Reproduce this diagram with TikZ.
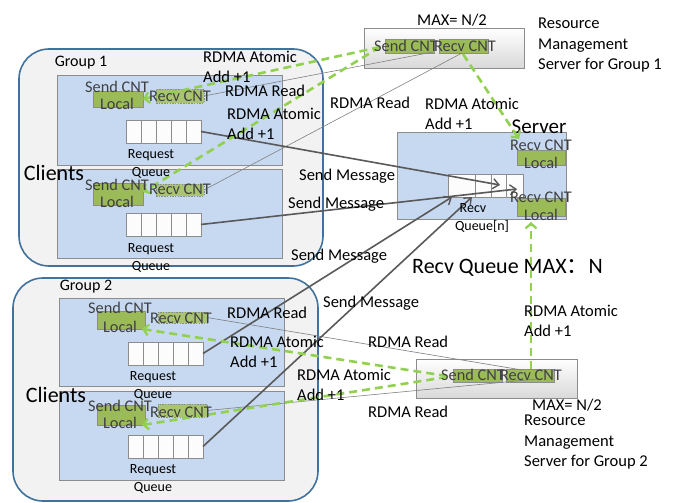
\documentclass[tikz,border=0pt]{standalone}
\usepackage{fontspec}
\setmainfont{Carlito}
\newfontfamily\cjkfont{Noto Sans CJK SC}
\usetikzlibrary{arrows.meta,calc}
\definecolor{grpfill}{HTML}{F2F2F2}
\definecolor{grpline}{HTML}{41719C}
\definecolor{cfill}{HTML}{C6D9F1}
\definecolor{boxline}{HTML}{8C8C8C}
\definecolor{cntgreen}{HTML}{9BBB59}
\definecolor{dashgreen}{HTML}{92D050}
\definecolor{msgline}{HTML}{595959}
\definecolor{cnttext}{HTML}{404040}
\tikzset{
 grp/.style={draw=grpline, fill=grpfill, line width=1.6pt, rounded corners=30pt},
 boxat/.style={anchor=north west, inner sep=0pt, outer sep=0pt},
 clientbox/.style={boxat, draw=boxline, fill=cfill, line width=0.8pt},
 greenbox/.style={boxat, draw=boxline, fill=cntgreen, line width=0.6pt},
 recvbox/.style={boxat, draw=boxline, fill=cntgreen!85, line width=0.6pt, dash pattern=on 1.5pt off 1.2pt},
 queuebox/.style={boxat, draw=boxline, fill=white!98!gray, line width=0.8pt, minimum width=75pt, minimum height=23pt},
 rmsbox/.style={boxat, draw=boxline, top color=white, bottom color=gray!30, line width=0.8pt},
 lbl/.style={inner sep=0pt, anchor=west, align=left, font=\fontsize{16.5}{20.5}\selectfont},
 cnttxt/.style={inner sep=0pt, align=center, text=cnttext, font=\fontsize{16.3}{18}\selectfont},
 smalltxt/.style={inner sep=0pt, font=\fontsize{14}{16}\selectfont},
 greenarrow/.style={draw=dashgreen, line width=2.6pt, dash pattern=on 8pt off 5pt, -{Straight Barb[length=5pt,width=11pt,line width=2.2pt]}},
 msgarrow/.style={draw=msgline, line width=1.6pt, -{Straight Barb[length=6pt,width=10pt,line width=1.4pt]}},
 readline/.style={draw=gray, line width=0.6pt},
}
\newcommand{\qcells}[1]{\foreach \i in {1,...,4}{\draw[boxline, line width=0.8pt] ($(#1.north west)+(15*\i,0)$) -- ($(#1.south west)+(15*\i,0)$);}}
\begin{document}
\begin{tikzpicture}[x=1pt, y=-1pt]
\useasboundingbox (0,0) rectangle (678,503);

% ---------------- Group 1 ----------------
\draw[grp] (19,49) rectangle (323,266);
\node[clientbox, minimum width=225pt, minimum height=90pt] (c1a) at (57,75) {};
\node[clientbox, minimum width=225pt, minimum height=89pt] (c1b) at (57,169) {};
\node[inner sep=0pt, font=\fontsize{16}{18}\selectfont] (g1t) at (81,63) {Group 1};
\node[inner sep=0pt, font=\fontsize{22}{24}\selectfont] (cl1) at (54,173) {Clients};

\node[greenbox, minimum width=50pt, minimum height=16pt] (sc1a) at (93,91) {};
\node[recvbox, minimum width=48pt, minimum height=14pt] (rc1a) at (156,89) {};
\node[queuebox] (q1a) at (126,120) {};
\qcells{q1a}
\node[greenbox, minimum width=50pt, minimum height=22pt] (sc1b) at (93,183) {};
\node[recvbox, minimum width=48pt, minimum height=12pt] (rc1b) at (156,184) {};
\node[queuebox] (q1b) at (126,213) {};
\qcells{q1b}

% ---------------- Group 2 ----------------
\draw[grp] (13,278) rectangle (318,501);
\node[clientbox, minimum width=225pt, minimum height=88pt] (c2a) at (59,298) {};
\node[clientbox, minimum width=225pt, minimum height=89pt] (c2b) at (59,391) {};
\node[inner sep=0pt, font=\fontsize{16}{18}\selectfont] (g2t) at (86,287) {Group 2};
\node[inner sep=0pt, font=\fontsize{22}{24}\selectfont] (cl2) at (56,395) {Clients};

\node[greenbox, minimum width=48pt, minimum height=18pt] (sc2a) at (97,311) {};
\node[recvbox, minimum width=49pt, minimum height=11pt] (rc2a) at (158,312) {};
\node[queuebox] (q2a) at (128,342) {};
\qcells{q2a}
\node[greenbox, minimum width=48pt, minimum height=20pt] (sc2b) at (97,405) {};
\node[recvbox, minimum width=49pt, minimum height=13pt] (rc2b) at (158,404) {};
\node[queuebox] (q2b) at (128,435) {};
\qcells{q2b}

% ---------------- Server ----------------
\node[clientbox, minimum width=169pt, minimum height=87pt] (srv) at (397,132) {};
\node[greenbox, minimum width=48pt, minimum height=15pt] (sr1) at (517,150) {};
\node[greenbox, minimum width=48pt, minimum height=18pt] (sr2) at (517,198) {};
\node[queuebox] (rq) at (448,174) {};
\foreach \xx in {27,43,58}{\draw[boxline, line width=0.8pt] ($(rq.north west)+(\xx,0)$) -- ($(rq.south west)+(\xx,0)$);}
\node[inner sep=0pt, font=\fontsize{21}{23}\selectfont] (srvt) at (539,127) {Server};

% ---------------- Resource management servers ----------------
\node[rmsbox, minimum width=160pt, minimum height=40pt] (rms1) at (364,28) {};
\node[greenbox, minimum width=49pt, minimum height=14pt] (rs1s) at (385,39) {};
\node[greenbox, minimum width=49pt, minimum height=14pt] (rs1r) at (439,39) {};
\node[rmsbox, minimum width=161pt, minimum height=39pt] (rms2) at (416,359) {};
\node[greenbox, minimum width=49pt, minimum height=13pt] (rs2s) at (453,369) {};
\node[greenbox, minimum width=48pt, minimum height=13pt] (rs2r) at (506,369) {};

% ---------------- free ends ----------------
\coordinate (e1) at (433,52);
\coordinate (e2) at (462,53);
\coordinate (e3) at (522,370);
\coordinate (e4) at (537,379);
\coordinate (m1) at (500,185);
\coordinate (m2) at (517,189);
\coordinate (m3) at (452,197);
\coordinate (m4) at (472,197);
\coordinate (gs1) at (380,47);
\coordinate (gs2) at (463,54);
\coordinate (gt1) at (519,139);
\coordinate (gs3) at (531,369);
\coordinate (gt2) at (531,222);
\coordinate (gs4) at (447,376);

% ---------------- connectors ----------------
\draw[readline] (rc1a.east) -- (e1);
\draw[readline] (rc1b.east) -- (e2);
\draw[readline] (rc2a.east) -- (e3);
\draw[readline] (rc2b.east) -- (e4);

\draw[msgarrow] (q1a.east) -- (m1);
\draw[msgarrow] (q1b.east) -- (m2);
\draw[msgarrow] (q2a.east) -- (m3);
\draw[msgarrow] (q2b.east) -- (m4);

\draw[greenarrow] (gs1) -- (sc1a.east);
\draw[greenarrow] (gs1) -- ($(sc1b.east)+(0,-2)$);
\draw[greenarrow] (gs2) -- (gt1);
\draw[greenarrow] (gs3) -- (gt2);
\draw[greenarrow] (gs4) -- ($(sc2a.east)+(-3,9)$);
\draw[greenarrow] ($(gs4)+(0,1)$) -- ($(sc2b.east)+(-3,10)$);

% ---------------- texts in boxes ----------------
\node[cnttxt] (t1a) at (117,87) {Send CNT};
\node[cnttxt] (l1a) at (117,104) {Local};
\node[cnttxt] (r1a) at (180,96) {Recv CNT};
\node[cnttxt] (t1b) at (117,185) {Send CNT};
\node[cnttxt] (l1b) at (117,202) {Local};
\node[cnttxt] (r1b) at (180,189) {Recv CNT};
\node[cnttxt] (t2a) at (120,308) {Send CNT};
\node[cnttxt] (l2a) at (120,327) {Local};
\node[cnttxt] (r2a) at (181,318) {Recv CNT};
\node[cnttxt] (t2b) at (120,406) {Send CNT};
\node[cnttxt] (l2b) at (120,423) {Local};
\node[cnttxt] (r2b) at (181,412) {Recv CNT};

\node[smalltxt] (rq1a) at (151,155) {Request};
\node[smalltxt] (qq1a) at (151,173) {Queue};
\node[smalltxt] (rq1b) at (151,249) {Request};
\node[smalltxt] (qq1b) at (151,267) {Queue};
\node[smalltxt] (rq2a) at (153,377) {Request};
\node[smalltxt] (qq2a) at (153,395) {Queue};
\node[smalltxt] (rq2b) at (153,470) {Request};
\node[smalltxt] (qq2b) at (153,488) {Queue};

\node[cnttxt] (sv1) at (541,145) {Recv CNT};
\node[cnttxt] (sl1) at (541,163) {Local};
\node[cnttxt] (sv2) at (541,197) {Recv CNT};
\node[cnttxt] (sl2) at (541,215) {Local};
\node[smalltxt] (rqt) at (473,208) {Recv};
\node[smalltxt] (rqn) at (482,226) {Queue[n]};

\node[cnttxt] (rs1st) at (406,46) {Send CNT};
\node[cnttxt] (rs1rt) at (465,46) {Recv CNT};
\node[cnttxt] (rs2st) at (473,375) {Send CNT};
\node[cnttxt] (rs2rt) at (531,375) {Recv CNT};

% ---------------- labels ----------------
\node[inner sep=0pt, font=\fontsize{16.5}{20.5}\selectfont] (max1) at (452,20) {MAX= N/2};
\node[lbl, anchor=north west] (res1) at (538,18) {Resource\\Management\\Server for Group 1};
\node[lbl] (max2) at (532,405) {MAX= N/2};
\node[lbl, anchor=north west] (res2) at (524,415) {Resource\\Management\\Server for Group 2};

\node[lbl] (a1) at (203,67) {RDMA Atomic\\Add +1};
\node[lbl] (rd1) at (225,91) {RDMA Read};
\node[lbl] (a2) at (227,124) {RDMA Atomic\\Add +1};
\node[lbl] (rd2) at (330,103) {RDMA Read};
\node[lbl] (a3) at (425,114) {RDMA Atomic\\Add +1};
\node[lbl] (sm1) at (299,176) {Send Message};
\node[lbl] (sm2) at (288,204) {Send Message};
\node[lbl] (sm3) at (291,256) {Send Message};
\node[lbl] (sm4) at (323,303) {Send Message};
\node[inner sep=0pt, anchor=west, font=\fontsize{22}{24}\selectfont] (rqmax) at (412,268) {Recv Queue MAX{\cjkfont ：}N};
\node[lbl] (rd3) at (227,313) {RDMA Read};
\node[lbl] (a4) at (230,352) {RDMA Atomic\\Add +1};
\node[lbl] (a5) at (297,385) {RDMA Atomic\\Add +1};
\node[lbl] (rd4) at (368,342) {RDMA Read};
\node[lbl] (rd5) at (368,412) {RDMA Read};
\node[lbl] (a6) at (524,321) {RDMA Atomic\\Add +1};
\end{tikzpicture}
\end{document}
